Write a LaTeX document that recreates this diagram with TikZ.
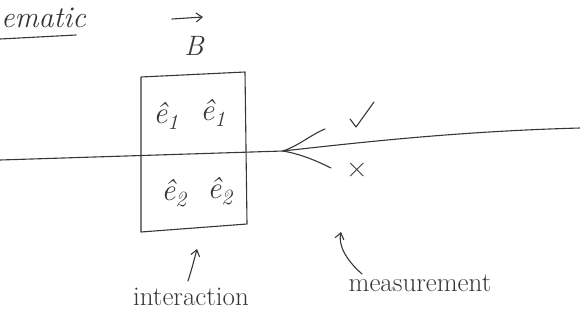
\documentclass[tikz,border=0pt]{standalone}
\usepackage{fontspec}
\usetikzlibrary{arrows.meta}
\definecolor{ink}{RGB}{55,55,55}
\tikzset{
  pen/.style={draw=ink, line width=1.1pt, line cap=round, line join=round},
  lbl/.style={text=ink, inner sep=0pt},
  ev/.style={lbl, font=\fontsize{31}{33}\selectfont\itshape},
  hd/.style={-{Straight Barb[length=6pt,width=9pt]}},
}
\begin{document}
\begin{tikzpicture}[x=1pt,y=-1pt]
\useasboundingbox (0,0) rectangle (580,327);
% title fragment
\node[lbl, anchor=west, font=\fontsize{30}{32}\selectfont\itshape] (title) at (1,18) {ematic};
\draw[pen] (0,39) -- (76,35);
% B vector
\node[lbl, font=\fontsize{28}{30}\selectfont\itshape] (B) at (194,46) {B};
\coordinate (Bl) at (172,19);
\coordinate (Br) at (203,17);
\draw[pen, hd] (Bl) -- (Br);
% box
\coordinate (tl) at (141,77);
\coordinate (tr) at (245,72);
\coordinate (br) at (247,224);
\coordinate (bl) at (141,232);
\draw[pen] (tl) -- (tr) -- (br) -- (bl) -- cycle;
% unit vectors
\node[ev] (e11) at (166,116) {ê\textsubscript{1}};
\node[ev] (e12) at (213,113) {ê\textsubscript{1}};
\node[ev] (e21) at (174,193) {ê\textsubscript{2}};
\node[ev] (e22) at (220,191) {ê\textsubscript{2}};
% beam
\coordinate (L) at (0,160);
\coordinate (J) at (283,151);
\coordinate (R) at (580,128);
\draw[pen] (L) -- (J);
\draw[pen] (J) .. controls (380,140) and (470,131) .. (R);
\coordinate (U) at (325,129);
\coordinate (D) at (331,168);
\draw[pen] (J) .. controls (300,145) and (312,134) .. (U);
\draw[pen] (J) .. controls (300,154) and (315,160) .. (D);
% check and cross
\coordinate (c1) at (350,119);
\coordinate (c2) at (356,127);
\coordinate (c3) at (374,102);
\draw[pen] (c1) -- (c2) -- (c3);
\node[lbl, font=\fontsize{30}{32}\selectfont] (x) at (357,170) {×};
% interaction
\node[lbl, font=\fontsize{27}{29}\selectfont] (inter) at (191,297) {interaction};
\coordinate (ia) at (188,281);
\coordinate (ib) at (197,249);
\draw[pen, hd] (ia) .. controls (192,268) .. (ib);
% measurement
\node[lbl, font=\fontsize{27}{29}\selectfont] (meas) at (420,283) {measurement};
\coordinate (ma) at (362,274);
\coordinate (mb) at (341,232);
\draw[pen, hd] (ma) .. controls (346,260) and (338,245) .. (mb);
\end{tikzpicture}
\end{document}
